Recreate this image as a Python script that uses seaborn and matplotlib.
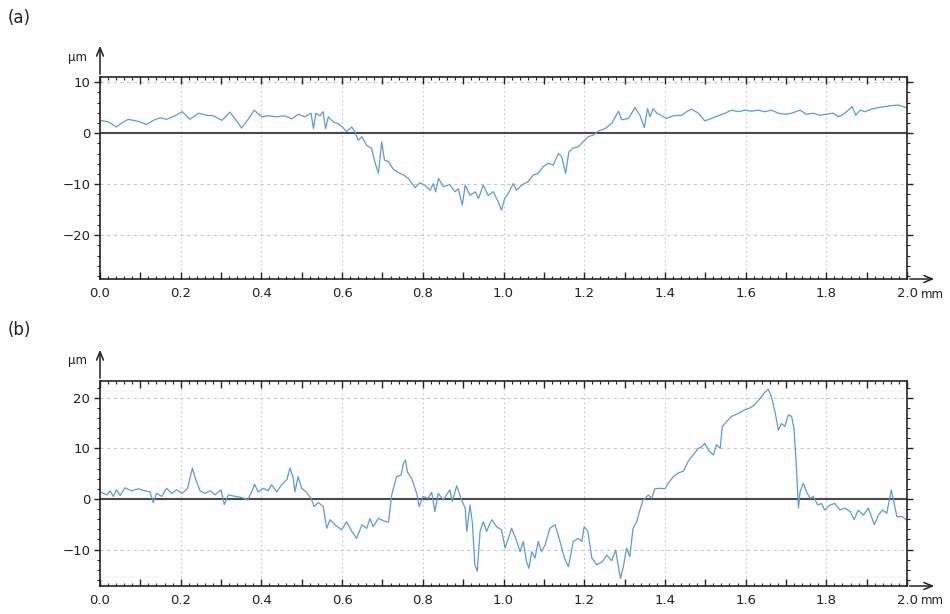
import numpy as np
import pandas as pd
import matplotlib
matplotlib.use("Agg")
import matplotlib.pyplot as plt
from matplotlib.ticker import MultipleLocator, FuncFormatter
import seaborn as sns

# ---------------- data (profile a) ----------------
xa = [0.000, 0.021, 0.041, 0.054, 0.070, 0.095, 0.116, 0.132, 0.149, 0.165,
      0.186, 0.204, 0.223, 0.244, 0.264, 0.281, 0.302, 0.322, 0.335, 0.351,
      0.368, 0.382, 0.401, 0.417, 0.438, 0.458, 0.475, 0.492, 0.508, 0.523,
      0.529, 0.535, 0.545, 0.553, 0.559, 0.566, 0.578, 0.591, 0.603, 0.611,
      0.624, 0.632, 0.640, 0.649, 0.661, 0.673, 0.681, 0.690, 0.698, 0.705,
      0.715, 0.727, 0.739, 0.752, 0.764, 0.781, 0.793, 0.805, 0.818, 0.826,
      0.832, 0.839, 0.851, 0.867, 0.880, 0.888, 0.898, 0.905, 0.917, 0.930,
      0.938, 0.950, 0.962, 0.975, 0.987, 0.995, 1.003, 1.012, 1.024, 1.032,
      1.045, 1.061, 1.074, 1.086, 1.098, 1.111, 1.123, 1.136, 1.144, 1.154,
      1.162, 1.173, 1.185, 1.197, 1.210, 1.222, 1.235, 1.252, 1.268, 1.285,
      1.293, 1.310, 1.326, 1.338, 1.349, 1.357, 1.363, 1.371, 1.380, 1.392,
      1.404, 1.421, 1.441, 1.454, 1.466, 1.483, 1.499, 1.516, 1.532, 1.549,
      1.565, 1.582, 1.598, 1.615, 1.631, 1.648, 1.664, 1.681, 1.697, 1.714,
      1.735, 1.751, 1.768, 1.784, 1.801, 1.817, 1.830, 1.846, 1.864, 1.873,
      1.884, 1.896, 1.912, 1.929, 1.945, 1.962, 1.978, 1.998]
ya = [2.5, 2.2, 1.2, 2.0, 2.7, 2.3, 1.7, 2.5, 3.0, 2.7,
      3.4, 4.2, 2.7, 3.9, 3.5, 3.4, 2.5, 4.1, 2.8, 1.0,
      2.8, 4.5, 3.2, 3.4, 3.2, 3.4, 2.8, 3.7, 3.2, 3.9,
      0.9, 3.9, 3.4, 4.2, 0.9, 3.2, 2.2, 1.8, 1.0, 0.3,
      1.2, 0.2, -1.4, -0.7, -2.4, -3.0, -5.6, -7.9, -1.7, -5.3,
      -5.6, -7.1, -7.7, -8.2, -8.9, -10.7, -9.7, -10.2, -11.2, -9.9,
      -11.5, -8.9, -10.5, -10.1, -11.5, -10.9, -14.1, -10.2, -12.2, -11.5,
      -12.8, -10.2, -12.2, -11.5, -13.5, -15.1, -12.8, -11.8, -9.9, -11.2,
      -10.2, -9.5, -8.2, -7.9, -6.6, -5.9, -6.3, -4.0, -4.6, -7.9,
      -3.7, -2.9, -2.7, -1.7, -0.7, -0.4, 0.4, 0.9, 1.9, 4.3,
      2.6, 2.9, 5.0, 3.5, 1.1, 4.8, 3.2, 4.8, 3.9, 3.4,
      2.9, 3.4, 3.5, 4.2, 4.7, 3.9, 2.4, 2.9, 3.4, 3.9,
      4.5, 4.2, 4.5, 4.3, 4.5, 4.2, 4.5, 3.9, 3.7, 3.9,
      4.5, 3.7, 3.9, 3.5, 3.7, 3.9, 3.2, 3.9, 5.2, 3.5,
      4.5, 4.2, 4.7, 5.0, 5.2, 5.4, 5.5, 5.0]

# ---------------- data (profile b) ----------------
xb = [0.000, 0.017, 0.025, 0.033, 0.041, 0.050, 0.062, 0.078, 0.095, 0.112,
      0.124, 0.132, 0.140, 0.153, 0.165, 0.178, 0.190, 0.204, 0.217, 0.229,
      0.236, 0.248, 0.260, 0.273, 0.285, 0.300, 0.308, 0.318, 0.335, 0.351,
      0.366, 0.376, 0.383, 0.392, 0.405, 0.417, 0.425, 0.438, 0.450, 0.463,
      0.471, 0.479, 0.483, 0.491, 0.500, 0.512, 0.523, 0.531, 0.541, 0.553,
      0.562, 0.570, 0.582, 0.599, 0.611, 0.624, 0.636, 0.649, 0.661, 0.669,
      0.677, 0.690, 0.702, 0.715, 0.723, 0.735, 0.746, 0.752, 0.757, 0.762,
      0.772, 0.785, 0.791, 0.801, 0.813, 0.822, 0.830, 0.838, 0.851, 0.859,
      0.867, 0.873, 0.884, 0.896, 0.905, 0.909, 0.917, 0.923, 0.929, 0.935,
      0.942, 0.950, 0.958, 0.971, 0.983, 0.995, 1.004, 1.012, 1.020, 1.033,
      1.041, 1.049, 1.057, 1.063, 1.070, 1.078, 1.086, 1.094, 1.103, 1.115,
      1.128, 1.140, 1.151, 1.161, 1.173, 1.185, 1.194, 1.200, 1.209, 1.219,
      1.231, 1.245, 1.256, 1.268, 1.278, 1.284, 1.290, 1.297, 1.305, 1.313,
      1.321, 1.330, 1.338, 1.346, 1.351, 1.359, 1.367, 1.375, 1.388, 1.400,
      1.408, 1.421, 1.433, 1.446, 1.458, 1.470, 1.483, 1.491, 1.499, 1.509,
      1.520, 1.528, 1.537, 1.542, 1.553, 1.565, 1.582, 1.598, 1.611, 1.623,
      1.636, 1.646, 1.656, 1.664, 1.673, 1.681, 1.689, 1.697, 1.706, 1.714,
      1.720, 1.726, 1.731, 1.735, 1.743, 1.751, 1.760, 1.768, 1.779, 1.788,
      1.796, 1.809, 1.821, 1.834, 1.846, 1.859, 1.869, 1.879, 1.892, 1.904,
      1.919, 1.929, 1.939, 1.950, 1.961, 1.967, 1.975, 1.988, 1.998]
yb = [1.4, 0.8, 1.6, 0.5, 1.8, 0.7, 2.2, 1.6, 2.0, 1.6,
      1.4, -0.7, 1.1, 0.5, 2.1, 1.1, 1.8, 1.1, 2.1, 6.1,
      4.1, 1.6, 1.1, 1.6, 0.8, 1.8, -1.1, 0.8, 0.5, 0.3,
      -0.2, 1.4, 2.9, 1.4, 2.1, 1.6, 2.8, 1.4, 2.8, 3.8,
      6.1, 4.1, 1.4, 4.4, 2.1, 1.3, 0.1, -1.5, -0.7, -1.5,
      -5.8, -4.1, -5.1, -6.1, -4.5, -6.4, -7.8, -5.1, -5.8, -3.9,
      -5.5, -3.8, -4.3, -4.6, 0.8, 4.4, 4.7, 7.0, 7.7, 5.3,
      4.1, 1.1, -1.5, 0.5, 0.1, 1.3, -2.5, 1.1, -0.2, 0.8,
      1.8, -0.5, 2.6, -0.2, -1.8, -6.4, -1.2, -4.8, -13.0, -14.3,
      -6.4, -4.5, -6.4, -4.1, -5.5, -6.1, -9.7, -7.8, -5.8, -8.4,
      -10.4, -8.4, -12.4, -13.7, -10.4, -11.7, -8.4, -10.4, -9.1, -5.8,
      -5.1, -8.4, -11.7, -13.4, -8.4, -7.8, -8.4, -5.5, -6.4, -11.7,
      -13.0, -12.4, -11.1, -12.2, -10.1, -13.0, -15.7, -13.4, -9.7, -11.4,
      -5.8, -4.5, -2.2, -0.2, 0.1, 0.8, 0.1, 2.0, 2.1, 2.0,
      3.1, 4.4, 5.1, 5.5, 7.5, 8.7, 10.0, 10.3, 11.0, 9.5,
      8.7, 10.7, 10.0, 14.3, 15.3, 16.3, 16.9, 17.6, 18.0, 18.6,
      19.9, 20.9, 21.7, 20.2, 17.2, 13.6, 14.9, 14.3, 16.6, 16.3,
      13.9, 6.1, -1.8, 1.4, 3.1, 1.4, 0.1, 0.5, -1.2, -0.9,
      -2.2, -1.2, -0.9, -2.2, -1.8, -2.5, -4.1, -2.2, -3.2, -1.8,
      -5.1, -3.2, -2.2, -2.8, 1.8, -0.5, -3.5, -3.5, -4.1]

panel_labels = ["(a)", "(b)"]
ylims = [(-28.6, 11.0), (-17.2, 23.3)]
yticks = [[-20, -10, 0, 10], [-10, 0, 10, 20]]

# ---------------- styling ----------------
sns.set_style("white")
plt.rcParams["font.family"] = ["DejaVu Sans"]
line_color = "#5d9ad8"

fig = plt.figure(figsize=(9.5, 6.14), dpi=100)
W, H = 950, 614
rects = [(100, 77, 907, 279), (100, 381, 907, 586)]
datasets = [(xa, ya), (xb, yb)]

for i, ((l, t, r, b), (xs, ys)) in enumerate(zip(rects, datasets)):
    ax = fig.add_axes([l / W, 1 - b / H, (r - l) / W, (b - t) / H])
    df = pd.DataFrame({"x": xs, "y": ys})
    sns.lineplot(data=df, x="x", y="y", ax=ax, color=line_color, lw=0.9,
                 estimator=None, sort=False)
    ax.set_xlim(0, 2.0)
    ax.set_ylim(*ylims[i])
    ax.set_xlabel("")
    ax.set_ylabel("")

    # grid
    for gx in np.arange(0.2, 2.0, 0.2):
        ax.axvline(gx, color="#c9c9c9", lw=0.8, ls=(0, (1.5, 2.5)), zorder=0)
    for gy in yticks[i]:
        if gy != 0:
            ax.axhline(gy, color="#c9c9c9", lw=0.8, ls=(0, (3, 3)), zorder=0)
    ax.axhline(0, color="#4a4a4a", lw=1.5, zorder=1)

    # ticks
    ax.xaxis.set_major_locator(MultipleLocator(0.1))
    ax.xaxis.set_minor_locator(MultipleLocator(0.02))
    ax.xaxis.set_major_formatter(FuncFormatter(
        lambda v, p: f"{v:.1f}" if abs(round(v * 10)) % 2 == 0 else ""))
    ax.set_yticks(yticks[i])
    ax.yaxis.set_minor_locator(MultipleLocator(2))
    ax.tick_params(axis="x", which="both", direction="in", top=True, bottom=True,
                   colors="#222222", labelsize=9.5, pad=6)
    ax.tick_params(axis="x", which="major", length=5, width=1)
    ax.tick_params(axis="x", which="minor", length=2.5, width=0.8)
    ax.tick_params(axis="y", which="both", direction="out", left=True, right=True,
                   colors="#222222", labelsize=9.5, pad=3)
    ax.tick_params(axis="y", which="major", length=4, width=1)
    ax.tick_params(axis="y", which="minor", length=2.5, width=0.8)
    for sp in ax.spines.values():
        sp.set_color("#222222")
        sp.set_linewidth(1.2)
        sp.set_visible(True)

    # axis arrows
    h_px = b - t
    w_px = r - l
    ax.annotate("", xy=(0, 1 + 34 / h_px), xytext=(0, 1), xycoords="axes fraction",
                arrowprops=dict(arrowstyle="->,head_width=0.25,head_length=0.6",
                                color="#222222", lw=1.1), annotation_clip=False)
    ax.annotate("", xy=(1 + 30 / w_px, 0), xytext=(1, 0), xycoords="axes fraction",
                arrowprops=dict(arrowstyle="->,head_width=0.25,head_length=0.6",
                                color="#222222", lw=1.1), annotation_clip=False)
    ax.text(-32 / w_px, 1 + 20 / h_px, "µm", transform=ax.transAxes,
            fontsize=8.5, color="#222222", ha="left", va="center")
    ax.text(1 + 14 / w_px, -15 / h_px, "mm", transform=ax.transAxes,
            fontsize=8.5, color="#222222", ha="left", va="center")

    fig.text(8 / W, 1 - (18 if i == 0 else 330) / H, panel_labels[i],
             fontsize=12, color="#222222", ha="left", va="center")

fig.savefig("out.png", dpi=100)
